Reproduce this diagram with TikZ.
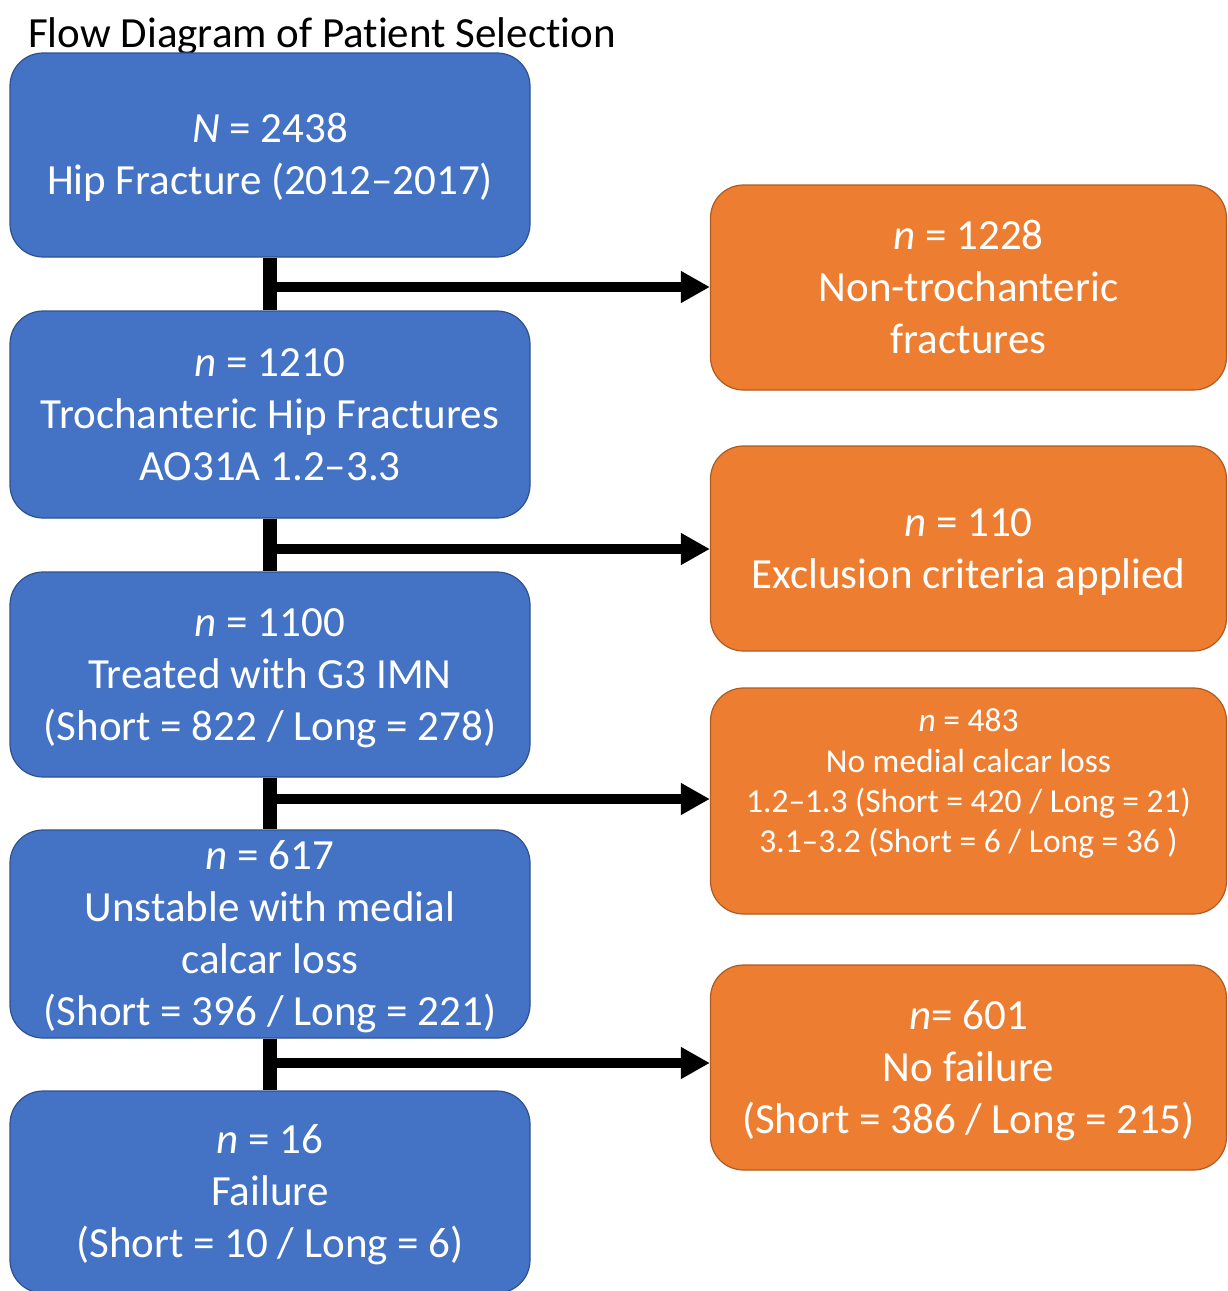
\documentclass[tikz,border=0pt]{standalone}
\usepackage{fontspec}
\setmainfont[Ligatures=NoCommon]{Carlito}
\usetikzlibrary{arrows.meta}
\definecolor{boxblue}{HTML}{4472C4}
\definecolor{blueedge}{HTML}{2F528F}
\definecolor{boxorange}{HTML}{ED7D31}
\definecolor{orangeedge}{HTML}{AE5A21}
\newcommand{\boxlines}[1]{\raisebox{-3.5pt}[\height][\depth]{\begin{tabular}{@{}c@{}}#1\end{tabular}}}
\tikzset{
  bluebox/.style={rectangle, rounded corners=33pt, fill=boxblue, draw=blueedge, line width=1.2pt,
    minimum width=520pt, inner sep=0pt, text=white,
    font=\fontsize{43}{52}\selectfont},
  orangebox/.style={rectangle, rounded corners=33pt, fill=boxorange, draw=orangeedge, line width=1.2pt,
    minimum width=516pt, inner sep=0pt, text=white,
    font=\fontsize{43}{52}\selectfont},
  stem/.style={line width=14pt, black},
  branch/.style={line width=10pt, black, -{Triangle[length=29pt,width=30pt]}},
}
\begin{document}
\begin{tikzpicture}[x=1pt,y=-1pt]
\useasboundingbox (0,0) rectangle (1228,1291);
\node[anchor=base west, inner sep=0pt, font=\fontsize{43}{52}\selectfont] (title) at (28,47) {Flow Diagram of Pat\kern0pt ient Select\kern0pt ion};

\node[bluebox, minimum height=204pt] (b1) at (270,155) {\boxlines{\textit{N} = 2438\\Hip Fracture (2012–2017)}};
\node[bluebox, minimum height=207pt] (b2) at (270,414.5) {\boxlines{\textit{n} = 1210\\Trochanteric Hip Fractures\\AO31A 1.2–3.3}};
\node[bluebox, minimum height=205pt] (b3) at (270,674.5) {\boxlines{\textit{n} = 1100\\Treated with G3 IMN\\(Short = 822 / Long = 278)}};
\node[bluebox, minimum height=206pt] (b4) at (270,934) {\boxlines{\textit{n} = 617\\Unstable with medial\\calcar loss\\(Short = 396 / Long = 221)}};
\node[bluebox, minimum height=202pt] (b5) at (270,1192) {\boxlines{\textit{n} = 16\\Failure\\(Short = 10 / Long = 6)}};

\node[orangebox, minimum height=205pt] (o1) at (968.5,287.5) {\boxlines{\textit{n} = 1228\\Non-trochanteric\\fractures}};
\node[orangebox, minimum height=205pt] (o2) at (968.5,548.5) {\boxlines{\textit{n} = 110\\Exclusion criteria applied}};
\node[orangebox, minimum height=226pt, font=\fontsize{33.5}{40.3}\selectfont] (o3) at (968.5,801) {\boxlines{\textit{n} = 483\\No medial calcar loss\\1.2–1.3 (Short = 420 / Long = 21)\\3.1–3.2 (Short = 6 / Long = 36 )\\\mbox{}}};
\node[orangebox, minimum height=205pt] (o4) at (968.5,1067.5) {\boxlines{\textit{n}= 601\\No failure\\(Short = 386 / Long = 215)}};

\draw[stem] (b1.south) -- (b2.north);
\draw[stem] (b2.south) -- (b3.north);
\draw[stem] (b3.south) -- (b4.north);
\draw[stem] (b4.south) -- (b5.north);

\coordinate (j1) at (270,287);
\coordinate (j2) at (270,549);
\coordinate (j3) at (270,799);
\coordinate (j4) at (270,1063);
\draw[branch] (j1) -- (j1 -| o1.west);
\draw[branch] (j2) -- (j2 -| o2.west);
\draw[branch] (j3) -- (j3 -| o3.west);
\draw[branch] (j4) -- (j4 -| o4.west);
\end{tikzpicture}
\end{document}
